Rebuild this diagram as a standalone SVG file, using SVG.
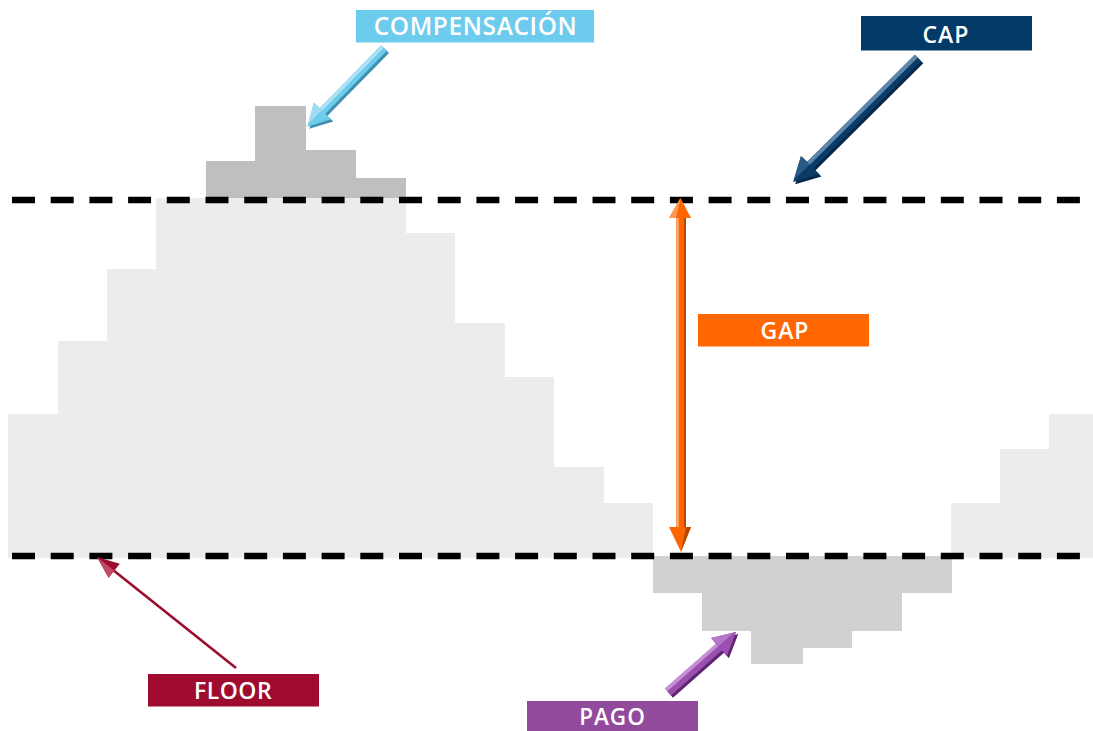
<svg xmlns="http://www.w3.org/2000/svg" width="1093" height="731" viewBox="0 0 1093 731">
  <style>
    .label { font-family: "Open Sans", "Liberation Sans", sans-serif; font-weight: 600; fill: #ffffff; text-anchor: middle; }
    .dash { stroke: #000000; stroke-width: 6.5; stroke-dasharray: 23 15.7; fill: none; }
    .band { fill: #ececec; }
    .excess { fill: #bfbfbf; }
    .deficit { fill: #d1d1d1; }
  </style>

  <rect width="1093" height="731" fill="#ffffff"/>

  <!-- rate curve inside the band -->
  <g id="rate-band">
    <polygon class="band" points="8,414 58,414 58,341 107,341 107,269 156,269 156,198 406,198 406,233 455,233 455,323 505,323 505,377 554,377 554,467 604,467 604,503 653,503 653,558 8,558"/>
    <polygon class="band" points="951,558 951,503 1000,503 1000,449 1049,449 1049,414 1093,414 1093,558"/>
  </g>

  <!-- part of the curve above the cap -->
  <g id="excess-above-cap">
    <polygon class="excess" points="206,198 206,161 255,161 255,106 306,106 306,150 356,150 356,178 406,178 406,198"/>
  </g>

  <!-- part of the curve below the floor -->
  <g id="shortfall-below-floor">
    <polygon class="deficit" points="653,556 952,556 952,593 902,593 902,631 852,631 852,648 803,648 803,664 751,664 751,631 702,631 702,593 653,593"/>
  </g>

  <!-- cap and floor levels -->
  <g id="levels">
    <line class="dash" x1="12" y1="200" x2="1093" y2="200"/>
    <line class="dash" x1="12" y1="556" x2="1093" y2="556"/>
  </g>

  <g id="connectors">
    <!-- compensation arrow -->
    <g transform="translate(384,48) rotate(134.3)">
      <polygon fill="#3f8fae" transform="translate(0,-3)" points="0,-4 88,-4 88,-12 110,0 88,12 88,4 0,4"/>
      <polygon fill="#6fcbec" points="0,-4 88,-4 88,-12 110,0 88,12 88,4 0,4"/>
      <polygon fill="#aee2f5" points="0,0.5 88,0.5 88,3.5 0,3.5"/>
      <polygon fill="#9fdcf3" points="88,1 88,12 108,1"/>
    </g>
    <!-- cap arrow -->
    <g transform="translate(918,58) rotate(135.2)">
      <polygon fill="#05274a" transform="translate(0,-3)" points="0,-4.5 152,-4.5 152,-13 176,0 152,13 152,4.5 0,4.5"/>
      <polygon fill="#0b3b67" points="0,-4.5 152,-4.5 152,-13 176,0 152,13 152,4.5 0,4.5"/>
      <polygon fill="#5f86ab" points="0,0.5 152,0.5 152,4.5 0,4.5"/>
      <polygon fill="#2b5a86" points="152,1 152,13 174,1"/>
    </g>
    <!-- gap arrow -->
    <g id="gap-arrow">
      <polygon fill="#ff6600" points="680.5,198 691,218 685,218 685,527 691,527 681,552 669,527 676,527 676,218 669,218"/>
      <polygon fill="#ffa060" points="676,218 679,218 679,527 676,527"/>
      <polygon fill="#ff9a55" points="680.5,198 669,218 676,218"/>
      <polygon fill="#b84700" points="684,218 686,218 686,527 684,527"/>
      <polygon fill="#b84700" points="681,552 691,527 686,527"/>
    </g>
    <!-- floor arrow -->
    <g id="floor-arrow">
      <line x1="236" y1="668" x2="114" y2="570.7" stroke="#9b0d2d" stroke-width="2.6"/>
      <polygon fill="#9b0d2d" points="97,557 119.8,563.7 108.6,577.7"/>
      <polygon fill="#c24a67" points="97,557 114,570.5 108.6,577.7"/>
    </g>
    <!-- payment arrow -->
    <g transform="translate(668,692) rotate(-41.4)">
      <polygon fill="#5e2470" transform="translate(0,3)" points="0,-4.5 68,-4.5 68,-12 91,0 68,12 68,4.5 0,4.5"/>
      <polygon fill="#9b4fb0" points="0,-4.5 68,-4.5 68,-12 91,0 68,12 68,4.5 0,4.5"/>
      <polygon fill="#c590d4" points="0,-4.5 68,-4.5 68,-1 0,-1"/>
      <polygon fill="#b478c6" points="68,-12 68,-1 89,-1"/>
    </g>
  </g>

  <g id="label-compensacion">
    <rect x="356" y="10" width="238" height="32.5" fill="#6dcbed"/>
    <text class="label" x="475.5" y="35" font-size="24.5" letter-spacing="0.6">COMPENSACIÓN</text>
  </g>

  <g id="label-cap">
    <rect x="861" y="16" width="171" height="34.5" fill="#033a68"/>
    <text class="label" x="946" y="42.5" font-size="23" letter-spacing="1">CAP</text>
  </g>

  <g id="label-gap">
    <rect x="698" y="314" width="171" height="32.5" fill="#ff6600"/>
    <text class="label" x="785" y="338.5" font-size="23" letter-spacing="1">GAP</text>
  </g>

  <g id="label-floor">
    <rect x="148" y="674" width="171" height="32.5" fill="#9e0b2e"/>
    <text class="label" x="233" y="699" font-size="23" letter-spacing="0.5">FLOOR</text>
  </g>

  <g id="label-pago">
    <rect x="527" y="701" width="171" height="30" fill="#924a9c"/>
    <text class="label" x="612.5" y="724.5" font-size="22.5" letter-spacing="1">PAGO</text>
  </g>
</svg>
